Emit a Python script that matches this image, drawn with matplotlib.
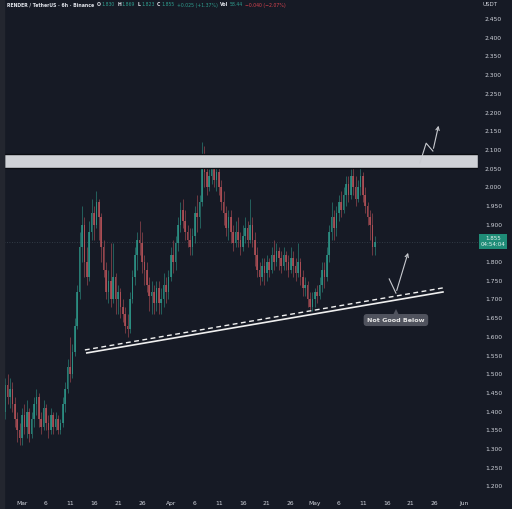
import numpy as np
import matplotlib.pyplot as plt

# 12h candles, day offset from Mar 1 (first candle = Feb 26 12:00)
start_day = -3.5
first_open = 1.40
closes = [
    1.47, 1.44, 1.46, 1.42, 1.38, 1.35, 1.33, 1.39, 1.36, 1.40,
    1.34, 1.38, 1.42, 1.44, 1.38, 1.36, 1.41, 1.37, 1.35, 1.39,
    1.36, 1.38, 1.35, 1.37, 1.42, 1.46, 1.52, 1.50, 1.56, 1.63,
    1.72, 1.84, 1.90, 1.80, 1.76, 1.88, 1.93, 1.90, 1.96, 1.92,
    1.84, 1.78, 1.72, 1.75, 1.70, 1.76, 1.70, 1.72, 1.68, 1.66,
    1.63, 1.62, 1.70, 1.76, 1.82, 1.86, 1.85, 1.80, 1.78, 1.74,
    1.71, 1.72, 1.69, 1.73, 1.69, 1.70, 1.74, 1.72, 1.76, 1.82,
    1.80, 1.85, 1.90, 1.94, 1.91, 1.88, 1.86, 1.84, 1.87, 1.93,
    1.92, 1.96, 2.08, 2.04, 2.00, 2.03, 2.06, 2.02, 2.04, 2.00,
    1.96, 1.93, 1.89, 1.92, 1.88, 1.85, 1.88, 1.86, 1.84, 1.87,
    1.89, 1.86, 1.90, 1.86, 1.82, 1.78, 1.76, 1.79, 1.77, 1.80,
    1.78, 1.82, 1.80, 1.83, 1.81, 1.79, 1.82, 1.80, 1.78, 1.81,
    1.79, 1.77, 1.80, 1.76, 1.73, 1.74, 1.70, 1.68, 1.70, 1.72,
    1.71, 1.74, 1.78, 1.76, 1.82, 1.88, 1.92, 1.89, 1.93, 1.96,
    1.94, 1.98, 2.01, 1.98, 2.03, 2.00, 1.97, 2.00, 2.03, 1.98,
    1.95, 1.92, 1.90, 1.84, 1.855,
]
highs = [
    1.49, 1.50, 1.49, 1.48, 1.44, 1.40, 1.37, 1.41, 1.42, 1.43,
    1.41, 1.40, 1.44, 1.46, 1.45, 1.40, 1.43, 1.42, 1.39, 1.41,
    1.40, 1.40, 1.39, 1.38, 1.44, 1.48, 1.54, 1.60, 1.58, 1.65,
    1.74, 1.88, 1.95, 1.92, 1.84, 1.91, 1.97, 1.95, 1.99, 1.97,
    1.93, 1.86, 1.80, 1.78, 1.85, 1.85, 1.77, 1.74, 1.73, 1.70,
    1.68, 1.66, 1.72, 1.78, 1.84, 1.88, 1.91, 1.88, 1.82, 1.80,
    1.76, 1.75, 1.74, 1.75, 1.75, 1.73, 1.77, 1.76, 1.78, 1.84,
    1.86, 1.87, 1.92, 1.96, 1.97, 1.94, 1.90, 1.89, 1.89, 1.95,
    1.98, 1.98, 2.12, 2.11, 2.07, 2.05, 2.08, 2.07, 2.06, 2.07,
    2.02, 1.99, 1.95, 1.94, 1.94, 1.90, 1.91, 1.92, 1.88, 1.90,
    1.92, 1.91, 1.97, 1.92, 1.88, 1.84, 1.80, 1.81, 1.81, 1.82,
    1.81, 1.84, 1.86, 1.85, 1.84, 1.83, 1.84, 1.83, 1.82, 1.84,
    1.83, 1.81, 1.85, 1.81, 1.78, 1.76, 1.75, 1.72, 1.72, 1.73,
    1.74, 1.76, 1.80, 1.80, 1.84, 1.90, 1.96, 1.94, 1.95, 1.98,
    1.99, 2.00, 2.03, 2.03, 2.05, 2.08, 2.03, 2.02, 2.08, 2.04,
    2.00, 1.96, 1.94, 1.93, 1.87,
]
lows = [
    1.38, 1.42, 1.41, 1.40, 1.36, 1.32, 1.31, 1.31, 1.34, 1.33,
    1.32, 1.33, 1.36, 1.39, 1.36, 1.34, 1.35, 1.35, 1.33, 1.34,
    1.34, 1.35, 1.34, 1.34, 1.36, 1.40, 1.45, 1.48, 1.49, 1.55,
    1.62, 1.70, 1.80, 1.76, 1.74, 1.75, 1.86, 1.86, 1.89, 1.86,
    1.80, 1.76, 1.70, 1.69, 1.68, 1.69, 1.66, 1.66, 1.65, 1.64,
    1.61, 1.60, 1.61, 1.69, 1.74, 1.78, 1.82, 1.77, 1.74, 1.72,
    1.67, 1.66, 1.66, 1.67, 1.66, 1.66, 1.68, 1.69, 1.70, 1.75,
    1.77, 1.78, 1.83, 1.88, 1.89, 1.86, 1.84, 1.82, 1.82, 1.85,
    1.88, 1.89, 1.95, 2.00, 1.98, 1.99, 2.01, 2.00, 1.99, 1.98,
    1.94, 1.90, 1.87, 1.86, 1.85, 1.83, 1.84, 1.84, 1.82, 1.83,
    1.85, 1.84, 1.85, 1.84, 1.79, 1.76, 1.74, 1.75, 1.74, 1.75,
    1.76, 1.77, 1.78, 1.79, 1.78, 1.77, 1.78, 1.78, 1.76, 1.77,
    1.76, 1.75, 1.76, 1.74, 1.71, 1.71, 1.68, 1.67, 1.67, 1.68,
    1.69, 1.70, 1.72, 1.73, 1.75, 1.80, 1.86, 1.86, 1.87, 1.91,
    1.92, 1.93, 1.95, 1.96, 1.97, 1.98, 1.95, 1.96, 1.98, 1.96,
    1.93, 1.90, 1.86, 1.82, 1.82,
]

# resistance zone and trendlines
zone = (2.052, 2.090)
support_solid = ([13.5, 87.7], [1.557, 1.720])
support_dashed = ([13.1, 87.7], [1.565, 1.731])
up_path = ([82.9, 84.2, 85.6, 86.9], [2.065, 2.118, 2.097, 2.172])
bounce_path = ([76.5, 77.9, 80.6], [1.755, 1.717, 1.832])
label_pos = (77.9, 1.645)
last_price = 1.855

x_ticks = [0, 5, 10, 15, 20, 25, 31, 36, 41, 46, 51, 56, 61, 66, 71, 76, 81, 86, 92]
x_labels = ["Mar", "6", "11", "16", "21", "26", "Apr", "6", "11", "16", "21", "26",
            "May", "6", "11", "16", "21", "26", "Jun"]
y_ticks = np.arange(1.20, 2.451, 0.05)

header = [
    ("RENDER / TetherUS · 6h · Binance", "w"),
    ("O", "w"), ("1.830", "g"), ("H", "w"), ("1.869", "g"),
    ("L", "w"), ("1.823", "g"), ("C", "w"), ("1.855", "g"),
    ("+0.025 (+1.37%)", "g"), ("Vol", "w"), ("58.44", "g"),
    ("−0.040 (−2.07%)", "r"),
]

bg = "#161a25"
up_col = "#2f9d8e"
dn_col = "#c0555b"
txt = "#d1d4dc"

fig = plt.figure(figsize=(5.12, 5.09), dpi=100, facecolor=bg)
ax = fig.add_axes([4 / 512, 14 / 509, 474 / 512, 495 / 509])
ax.set_facecolor(bg)
fig.patches.append(plt.Rectangle((0, 0), 4 / 512, 1, transform=fig.transFigure,
                                 color="#23262f", zorder=0))

o = np.array([first_open] + closes[:-1])
c = np.array(closes)
h = np.array(highs)
l = np.array(lows)
x = start_day + 0.5 * np.arange(len(c))
cols = np.where(c >= o, up_col, dn_col)

ax.vlines(x, l, h, colors=cols, lw=0.5, alpha=0.75, zorder=2)
ax.bar(x, np.maximum(np.abs(c - o), 0.003), bottom=np.minimum(o, c), width=0.32,
       color=cols, alpha=0.75, zorder=2, linewidth=0)

ax.set_xlim(-3.75, 95)
ax.set_ylim(1.177, 2.501)

# zone
ax.axhspan(zone[0], zone[1], facecolor="#cfd1d6", edgecolor="#0b0d12", lw=1.0, zorder=3)

# last price line
ax.axhline(last_price, color="#3b4650", lw=0.6, ls=(0, (1, 2)), zorder=1)

# support lines
ax.plot(*support_solid, color="#f0f0f0", lw=1.2, zorder=4)
ax.plot(*support_dashed, color="#f0f0f0", lw=1.0, ls=(0, (3.5, 2.5)), zorder=4)

# arrows
for px, py in (up_path, bounce_path):
    ax.plot(px[:-1], py[:-1], color="#c9cbd0", lw=0.8, zorder=5)
    ax.annotate("", xy=(px[-1], py[-1]), xytext=(px[-2], py[-2]),
                arrowprops=dict(arrowstyle="->", color="#c9cbd0", lw=0.8,
                                mutation_scale=6), zorder=5)

ax.plot(label_pos[0], label_pos[1] + 0.022, marker="^", ms=4, color="#50535e",
        zorder=5, markeredgewidth=0)
ax.text(label_pos[0], label_pos[1], "Not Good Below", color="#e6e6e6", fontsize=4.6,
        fontweight="bold", ha="center", va="center", zorder=6,
        bbox=dict(boxstyle="round,pad=0.55,rounding_size=0.5", fc="#50535e", ec="none"))

# axes
for s in ax.spines.values():
    s.set_visible(False)
ax.yaxis.tick_right()
ax.set_yticks(y_ticks)
# the 1.850 label sits under the last-price tag
ax.set_yticklabels(["" if abs(v - 1.85) < 1e-6 else f"{v:.3f}" for v in y_ticks])
ax.set_xticks(x_ticks)
ax.set_xticklabels(x_labels)
ax.tick_params(axis="both", length=0, labelsize=4.3, colors=txt)
ax.tick_params(axis="y", pad=5)
ax.tick_params(axis="x", pad=4)

# last price tag
ax.text(1.032, last_price, "1.855\n04:54:04", transform=ax.get_yaxis_transform(),
        color="#e8f5f2", fontsize=4.0, ha="center", va="center", linespacing=1.3,
        bbox=dict(boxstyle="square,pad=0.35", fc="#1f8c77", ec="none"), clip_on=False)

fig.text(490 / 512, 1 - 4 / 509, "USDT", color=txt, fontsize=4.0, ha="center", va="center")

# header, laid out piece by piece
cmap = {"w": "#e0e3ea", "g": up_col, "r": "#d9434f"}
renderer = fig.canvas.get_renderer()
hx = 7
for i, (s, key) in enumerate(header):
    t = fig.text(hx / 512, 1 - 5 / 509, s, color=cmap[key], fontsize=3.3,
                 fontweight="bold" if key == "w" else "normal", ha="left", va="center")
    w = t.get_window_extent(renderer).width
    gap = 0.8 if key == "w" and i > 0 else 2.5
    hx += w + gap

fig.savefig("out.png", dpi=100, facecolor=bg)
